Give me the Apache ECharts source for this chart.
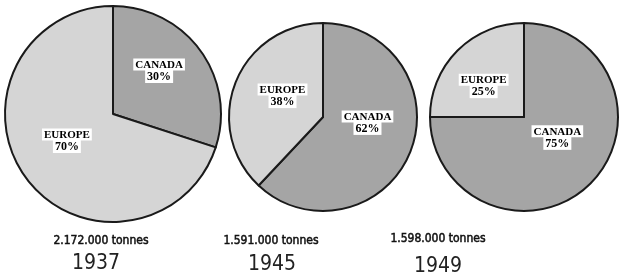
<!DOCTYPE html>
<html><head><meta charset="utf-8">
<script src="https://cdn.jsdelivr.net/npm/echarts@6/dist/echarts.min.js"></script>
<style>html,body{margin:0;padding:0;background:#fff}#c{width:623px;height:278px}</style>
</head><body><div id="c"></div>
<script>
const years = ['1937', '1945', '1949'];
const tonnes = ['2.172.000 tonnes', '1.591.000 tonnes', '1.598.000 tonnes'];
const regions = ['CANADA', 'EUROPE'];
const canada = [30, 62, 75];
const europe = [70, 38, 25];

const pieCenters = [[113, 114], [323, 117], [524, 117]];
const pieRadii = [108, 94, 94];
const labelOffsets = [[[0, -10], [0, -7]], [[-2, -13], [6, -3]], [[-2, -15], [-5, 4]]];
const tonneXY = [[101, 241], [271, 241], [438, 239]];
const yearXY = [[96, 264], [272, 265], [438, 267]];
const colors = { CANADA: '#a5a5a5', EUROPE: '#d5d5d5' };

const chart = echarts.init(document.getElementById('c'));
const series = years.map((y, i) => ({
  type: 'pie',
  center: pieCenters[i],
  radius: pieRadii[i],
  startAngle: 90,
  clockwise: true,
  animation: false,
  silent: true,
  data: [
    { name: regions[0], value: canada[i], itemStyle: { color: colors.CANADA }, label: { offset: labelOffsets[i][0] } },
    { name: regions[1], value: europe[i], itemStyle: { color: colors.EUROPE }, label: { offset: labelOffsets[i][1] } }
  ],
  itemStyle: { borderColor: '#1a1a1a', borderWidth: 2 },
  label: {
    show: true,
    position: 'inside',
    formatter: p => '{a|' + p.name + '}\n{b|' + p.value + '%}',
    rich: {
      a: { fontFamily: 'Liberation Serif', fontWeight: 'bold', fontSize: 11, color: '#000', backgroundColor: '#fff', padding: [1, 2, 0, 2], lineHeight: 12, align: 'center' },
      b: { fontFamily: 'Liberation Serif', fontWeight: 'bold', fontSize: 12, color: '#000', backgroundColor: '#fff', padding: [1, 2, 0, 2], lineHeight: 12, align: 'center' }
    }
  },
  labelLine: { show: false }
}));

const graphic = [];
years.forEach((y, i) => {
  graphic.push({ type: 'text', x: tonneXY[i][0], y: tonneXY[i][1], silent: true,
    style: { text: tonnes[i], textAlign: 'center', textVerticalAlign: 'middle', fill: '#111', stroke: '#111', lineWidth: 0.5, font: '12px "Liberation Sans Narrow", "DejaVu Sans Condensed", sans-serif' } });
  graphic.push({ type: 'text', x: yearXY[i][0], y: yearXY[i][1], silent: true,
    style: { text: y, textAlign: 'center', textVerticalAlign: 'middle', fill: '#222', font: '21px "Liberation Sans Narrow", "DejaVu Sans Condensed", sans-serif' } });
});

chart.setOption({ animation: false, series, graphic });
</script></body></html>
